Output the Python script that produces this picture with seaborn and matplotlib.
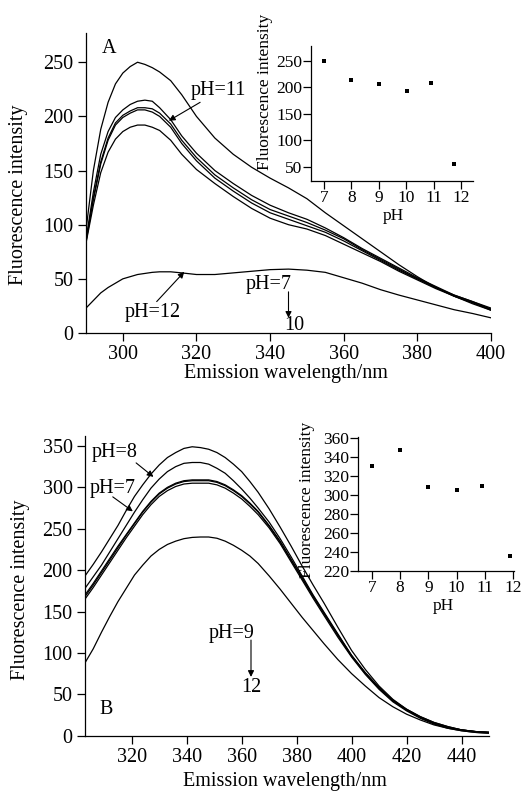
import numpy as np
import pandas as pd
import matplotlib
matplotlib.use("Agg")
import matplotlib.pyplot as plt
import seaborn as sns

# ---------------- Panel A data ----------------
wl_A = [290, 292, 294, 296, 298, 300, 302, 304, 306, 308, 310, 313, 316, 320, 325,
        330, 335, 340, 345, 350, 355, 360, 365, 370, 375, 380, 385, 390, 395, 400]
A_pH7 = [95, 150, 188, 213, 230, 240, 246, 250, 248, 245, 241, 233, 220, 200, 180,
         165, 153, 143, 134, 124, 111, 99, 87, 75, 63, 52, 42, 34, 27, 21]
A_pH8 = [86, 130, 165, 186, 199, 206, 211, 214, 215, 214, 208, 197, 182, 166, 150,
         138, 127, 118, 111, 105, 97, 88, 78, 69, 60, 51, 43, 35, 29, 23]
A_pH9 = [84, 123, 156, 178, 192, 199, 203, 206, 206, 204, 200, 190, 175, 159, 143,
         131, 120, 111, 105, 99, 93, 85, 76, 67, 58, 50, 42, 34, 28, 22]
A_pH10 = [83, 118, 148, 167, 179, 186, 190, 192, 192, 190, 187, 178, 165, 151, 138,
          126, 115, 106, 100, 96, 90, 82, 74, 66, 57, 49, 41, 34, 28, 21]
A_pH11 = [85, 125, 158, 180, 194, 201, 205, 208, 208, 207, 203, 193, 178, 162, 146,
          134, 123, 114, 108, 102, 95, 87, 77, 68, 59, 50, 42, 35, 29, 22]
A_pH12 = [23, 30, 37, 42, 46, 50, 52, 54, 55, 56, 56.5, 56.5, 55.5, 54, 54,
          55.5, 57, 58.5, 59, 58, 56, 51, 46, 40, 35, 30.5, 26, 21.5, 18, 14]

inset_pH_A = [7, 8, 9, 10.05, 10.9, 11.75]
inset_int_A = [250, 214, 207, 193, 209, 55]

# ---------------- Panel B data ----------------
wl_B = [303, 306, 309, 312, 315, 318, 321, 324, 327, 330, 333, 336, 339, 342, 345,
        348, 351, 354, 357, 360, 363, 366, 370, 374, 378, 382, 386, 390, 395, 400,
        405, 410, 415, 420, 425, 430, 435, 440, 445, 450]
B_pH7 = [178, 192, 206, 222, 238, 254, 270, 285, 299, 310, 319, 325, 329, 330, 330,
         328, 323, 317, 308, 298, 287, 275, 258, 238, 216, 193, 170, 149, 123, 97,
         76, 58, 43, 31, 22, 15, 10, 7, 5, 4]
B_pH8 = [193, 207, 222, 238, 254, 272, 289, 303, 316, 327, 336, 342, 347, 349, 348,
         346, 342, 336, 328, 319, 307, 294, 274, 252, 229, 205, 182, 160, 131, 103,
         80, 60, 44, 32, 23, 16, 11, 7, 5, 4]
B_pH9 = [168, 182, 197, 212, 227, 242, 256, 270, 282, 292, 299, 304, 307, 308, 308,
         308, 306, 302, 296, 289, 280, 270, 253, 234, 212, 190, 168, 147, 121, 96,
         75, 57, 42, 31, 22, 15, 10, 7, 5, 4]
B_pH10 = [165, 179, 194, 209, 224, 239, 253, 267, 279, 289, 296, 301, 304, 305, 305,
          305, 303, 299, 293, 286, 277, 267, 251, 232, 210, 188, 166, 145, 119, 95,
          74, 56, 41, 30, 21, 14, 9, 6, 4, 3]
B_pH11 = [170, 184, 199, 214, 229, 243, 257, 271, 283, 293, 300, 305, 308, 309, 309,
          309, 307, 303, 297, 290, 281, 271, 254, 235, 213, 191, 169, 148, 122, 97,
          76, 58, 43, 32, 23, 16, 11, 7, 5, 4]
B_pH12 = [88, 105, 125, 144, 162, 178, 194, 206, 217, 225, 231, 235, 238, 239.5, 240,
          240, 238.5, 235, 230, 224, 217, 208, 193, 177, 160, 143, 127, 111, 92, 75,
          60, 46, 35, 26, 19, 13, 9, 6, 4, 3]

inset_pH_B = [7, 8, 9, 10.03, 10.9, 11.9]
inset_int_B = [330, 347, 308, 305.5, 309, 235.5]

# ---------------- style ----------------
sns.set_style("ticks")
plt.rcParams['font.family'] = ['Liberation Serif', 'DejaVu Serif']
plt.rcParams['axes.linewidth'] = 0.9
plt.rcParams['axes.edgecolor'] = 'black'
plt.rcParams['text.color'] = 'black'
plt.rcParams['axes.labelcolor'] = 'black'
plt.rcParams['xtick.color'] = 'black'
plt.rcParams['ytick.color'] = 'black'

MAIN_FS = 14.5
INSET_FS = 12.5

def long_df(wl, series):
    frames = []
    for name, vals in series.items():
        frames.append(pd.DataFrame({"wl": wl, "I": vals, "pH": name}))
    return pd.concat(frames, ignore_index=True)

dfA = long_df(wl_A, {"7": A_pH7, "8": A_pH8, "9": A_pH9, "10": A_pH10,
                     "11": A_pH11, "12": A_pH12})
dfB = long_df(wl_B, {"7": B_pH7, "8": B_pH8, "9": B_pH9, "10": B_pH10,
                     "11": B_pH11, "12": B_pH12})
pal = {k: "black" for k in ["7", "8", "9", "10", "11", "12"]}

fig = plt.figure(figsize=(5.25, 7.91), dpi=100)
W, H = 525, 791

def px_axes(l, t, r, b):
    return fig.add_axes([l / W, 1 - b / H, (r - l) / W, (b - t) / H])

def style_axes(ax, fs, length, pad):
    sns.despine(ax=ax)
    ax.tick_params(axis='both', direction='out', length=length, width=0.9,
                   labelsize=fs, pad=pad)
    ax.set_facecolor('none')

arrow_kw = dict(arrowstyle='-|>', color='black', lw=0.8, mutation_scale=9,
                shrinkA=0, shrinkB=0)

# ---------------- Panel A ----------------
axA = px_axes(86, 33, 491, 333)
sns.lineplot(data=dfA, x="wl", y="I", hue="pH", palette=pal, estimator=None,
             sort=False, legend=False, lw=0.9, ax=axA)
axA.set_xlim(290, 400)
axA.set_ylim(0, 277)
axA.set_xticks([300, 320, 340, 360, 380, 400])
axA.set_yticks([0, 50, 100, 150, 200, 250])
style_axes(axA, MAIN_FS, 6, 3)
axA.set_xlabel("Emission wavelength/nm", fontsize=MAIN_FS)
axA.set_ylabel("Fluorescence intensity", fontsize=MAIN_FS)
axA.xaxis.set_label_coords(0.4926, -0.105)
axA.yaxis.set_label_coords(-0.142, 0.46)

axA.text(294.3, 263, "A", fontsize=MAIN_FS, ha='left', va='center')
axA.text(318.5, 224, "pH=11", fontsize=MAIN_FS, ha='left', va='center')
axA.annotate("", xy=(312.5, 196), xytext=(321, 213), arrowprops=arrow_kw)
axA.text(308, 19, "pH=12", fontsize=MAIN_FS, ha='center', va='center')
axA.annotate("", xy=(316.7, 56.5), xytext=(309.2, 29), arrowprops=arrow_kw)
axA.text(339.5, 45, "pH=7", fontsize=MAIN_FS, ha='center', va='center')
axA.annotate("", xy=(345, 14), xytext=(345, 38), arrowprops=arrow_kw)
axA.text(346.5, 6.5, "10", fontsize=MAIN_FS, ha='center', va='center')

# inset A
inA = px_axes(311, 46, 473, 181)
sns.scatterplot(x=inset_pH_A, y=inset_int_A, marker='s', s=12, color='black',
                edgecolor='black', linewidth=0, ax=inA)
inA.set_xlim(6.53, 12.44)
inA.set_ylim(23, 278)
inA.set_xticks([7, 8, 9, 10, 11, 12])
inA.set_yticks([50, 100, 150, 200, 250])
style_axes(inA, INSET_FS, 5.5, 1)
inA.set_xlabel("pH", fontsize=INSET_FS)
inA.set_ylabel("Fluorescence intensity", fontsize=INSET_FS)
inA.xaxis.set_label_coords(0.506, -0.2)
inA.yaxis.set_label_coords(-0.235, 0.66)

# ---------------- Panel B ----------------
axB = px_axes(85, 436, 489, 735.7)
sns.lineplot(data=dfB, x="wl", y="I", hue="pH", palette=pal, estimator=None,
             sort=False, legend=False, lw=0.9, ax=axB)
axB.set_xlim(303, 450)
axB.set_ylim(0, 362)
axB.set_xticks([320, 340, 360, 380, 400, 420, 440])
axB.set_yticks([0, 50, 100, 150, 200, 250, 300, 350])
style_axes(axB, MAIN_FS, 6, 3)
axB.set_xlabel("Emission wavelength/nm", fontsize=MAIN_FS)
axB.set_ylabel("Fluorescence intensity", fontsize=MAIN_FS)
axB.xaxis.set_label_coords(0.496, -0.122)
axB.yaxis.set_label_coords(-0.135, 0.486)

axB.text(305.3, 342, "pH=8", fontsize=MAIN_FS, ha='left', va='center')
axB.annotate("", xy=(327.9, 312.6), xytext=(321.6, 329.5), arrowprops=arrow_kw)
axB.text(304.6, 298, "pH=7", fontsize=MAIN_FS, ha='left', va='center')
axB.annotate("", xy=(320.4, 271), xytext=(313.1, 288.5), arrowprops=arrow_kw)
axB.text(356.4, 124, "pH=9", fontsize=MAIN_FS, ha='center', va='center')
axB.annotate("", xy=(363.4, 71), xytext=(363.4, 115.5), arrowprops=arrow_kw)
axB.text(363.6, 58, "12", fontsize=MAIN_FS, ha='center', va='center')
axB.text(308.3, 32, "B", fontsize=MAIN_FS, ha='left', va='center')

# inset B
inB = px_axes(358.3, 437, 514, 571)
sns.scatterplot(x=inset_pH_B, y=inset_int_B, marker='s', s=12, color='black',
                edgecolor='black', linewidth=0, ax=inB)
inB.set_xlim(6.52, 12.03)
inB.set_ylim(220, 361)
inB.set_xticks([7, 8, 9, 10, 11, 12])
inB.set_yticks([220, 240, 260, 280, 300, 320, 340, 360])
style_axes(inB, INSET_FS, 5.5, 1)
inB.set_xlabel("pH", fontsize=INSET_FS)
inB.set_ylabel("Fluorescence intensity", fontsize=INSET_FS)
inB.xaxis.set_label_coords(0.547, -0.2)
inB.yaxis.set_label_coords(-0.28, 0.53)

fig.savefig("out.png", dpi=100)
